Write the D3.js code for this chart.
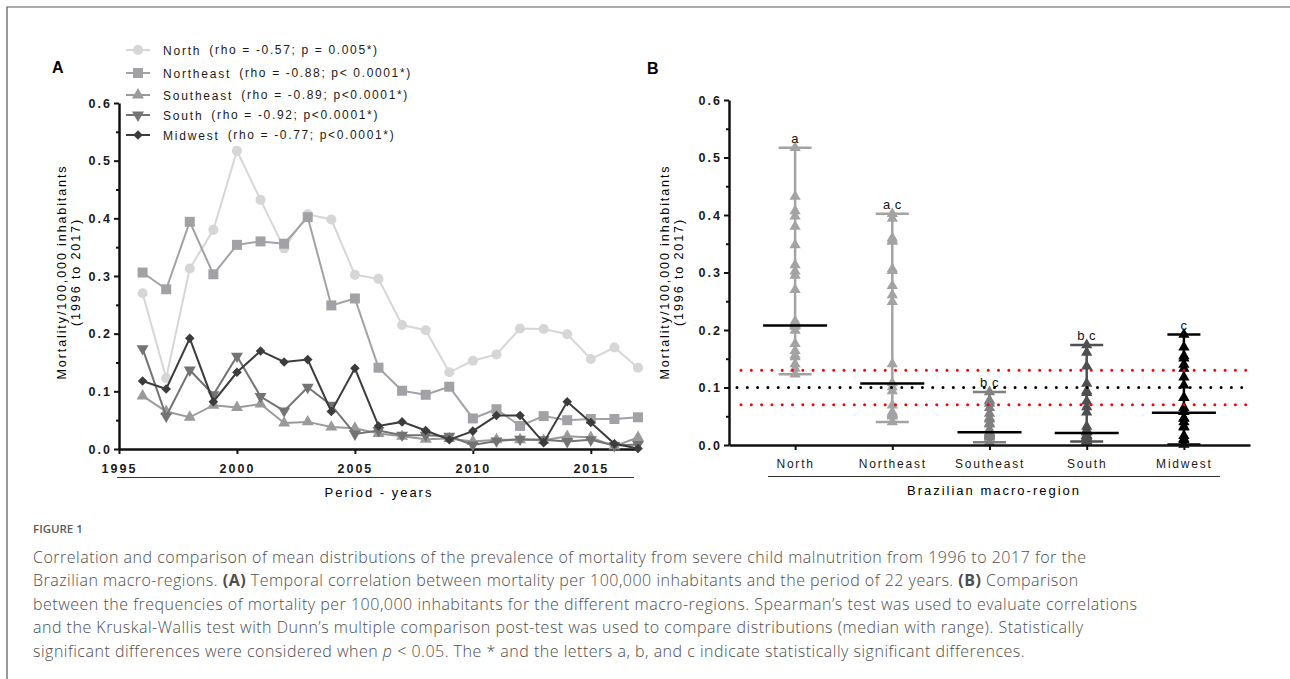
<!DOCTYPE html>
<html><head><meta charset="utf-8">
<script src="https://cdn.jsdelivr.net/npm/d3@7"></script>
<style>
body{margin:0;background:#fff;}
svg text{font-family:"Liberation Sans",Arial,sans-serif;}
</style></head><body>
<svg id="chart" width="1290" height="679"></svg>
<script>
// ---------- DATA ----------
const years = [1996,1997,1998,1999,2000,2001,2002,2003,2004,2005,2006,2007,2008,2009,2010,2011,2012,2013,2014,2015,2016,2017];
const north     = [0.270,0.123,0.313,0.380,0.517,0.432,0.348,0.407,0.398,0.302,0.295,0.215,0.206,0.133,0.153,0.164,0.209,0.208,0.199,0.156,0.176,0.141];
const northeast = [0.306,0.277,0.394,0.303,0.354,0.360,0.356,0.402,0.249,0.261,0.141,0.101,0.094,0.108,0.053,0.069,0.040,0.057,0.050,0.052,0.052,0.055];
const southeast = [0.092,0.065,0.055,0.076,0.072,0.078,0.045,0.047,0.038,0.036,0.027,0.022,0.017,0.018,0.013,0.016,0.016,0.015,0.022,0.020,0.005,0.020];
const south     = [0.174,0.057,0.137,0.094,0.161,0.091,0.066,0.107,0.076,0.026,0.032,0.024,0.024,0.022,0.007,0.014,0.017,0.016,0.013,0.016,0.006,0.008];
const midwest   = [0.118,0.104,0.192,0.082,0.133,0.170,0.151,0.155,0.065,0.140,0.040,0.047,0.032,0.016,0.031,0.058,0.058,0.011,0.082,0.046,0.009,0.001];
const regions = ["North","Northeast","Southeast","South","Midwest"];
const legendStats = ["(rho = -0.57; p = 0.005*)","(rho = -0.88; p< 0.0001*)","(rho = -0.89; p<0.0001*)","(rho = -0.92; p<0.0001*)","(rho = -0.77; p<0.0001*)"];
const medians = [0.208,0.107,0.022,0.021,0.056];
const sigLetters = ["a","a c","b c","b c","c"];
const refDash = [0.13,0.07];   // red dotted
const refLine = [0.10];        // black dotted
const yTicks = [0,0.1,0.2,0.3,0.4,0.5,0.6];
const yMinor = [0.05,0.15,0.25,0.35,0.45,0.55];
const xTicksA = [1995,2000,2005,2010,2015];
const captionLines = [
 [["Correlation and comparison of mean distributions of the prevalence of mortality from severe child malnutrition from 1996 to 2017 for the",""]],
 [["Brazilian macro-regions. ",""],["(A)","b"],[" Temporal correlation between mortality per 100,000 inhabitants and the period of 22 years. ",""],["(B)","b"],[" Comparison",""]],
 [["between the frequencies of mortality per 100,000 inhabitants for the different macro-regions. Spearman\u2019s test was used to evaluate correlations",""]],
 [["and the Kruskal-Wallis test with Dunn\u2019s multiple comparison post-test was used to compare distributions (median with range). Statistically",""]],
 [["significant differences were considered when ",""],["p","i"],[" < 0.05. The * and the letters a, b, and c indicate statistically significant differences.",""]]
];

const seriesA = [north,northeast,southeast,south,midwest];
const lineCol = ["#d6d6d6","#a2a2a6","#9a9a9a","#737373","#3c3c3c"];
const markCol = ["#d6d6d6","#a2a2a6","#9a9a9a","#737373","#3c3c3c"];
const bCol = ["#a3a3a3","#a3a3a3","#808080","#4f4f4f","#000000"];

const svg = d3.select("#chart");

// frame
svg.append("path").attr("d","M7,679 V7 H1290").attr("fill","none").attr("stroke","#555").attr("stroke-width",1.2);

// ---------- PANEL A ----------
const xA = d3.scaleLinear([1995,2017],[119,638]);
const yA = d3.scaleLinear([0,0.6],[449,103]);
const tickFont = g => g.selectAll("text").attr("font-size",12.5).attr("font-weight","bold")
   .style("letter-spacing","2px").attr("fill","#1a1a1a");
const axisStyle = g => { g.select(".domain").attr("stroke","#111").attr("stroke-width",2.5);
   g.selectAll(".tick line").attr("stroke","#111").attr("stroke-width",2); };

const gA = svg.append("g");
gA.append("g").attr("transform","translate(119,0)")
  .call(d3.axisLeft(yA).tickValues(yMinor).tickSize(3).tickFormat("").tickSizeOuter(0))
  .call(g=>g.select(".domain").remove()).call(axisStyle);
gA.append("g").attr("transform","translate(119,0)")
  .call(d3.axisLeft(yA).tickValues(yTicks).tickSize(5).tickPadding(2).tickFormat(d3.format(".1f")).tickSizeOuter(0))
  .call(axisStyle).call(tickFont);
gA.append("g").attr("transform","translate(0,449)")
  .call(d3.axisBottom(xA).tickValues(xTicksA).tickSize(5).tickPadding(10).tickFormat(d3.format("d")).tickSizeOuter(0))
  .call(axisStyle).call(tickFont);

const symFor = i => {
  if(i===0) return d3.symbol(d3.symbolCircle,80)();
  if(i===1) return d3.symbol(d3.symbolSquare,100)();
  if(i===2||i===3) return d3.symbol(d3.symbolTriangle,62)();
  return d3.symbol(d3.symbolSquare,46)();
};
const rotFor = i => i===3 ? 180 : (i===4 ? 45 : 0);

const line = d3.line().x((d,j)=>xA(years[j])).y(d=>yA(d));
seriesA.forEach((s,i)=>{
  const g = gA.append("g");
  g.append("path").attr("d",line(s)).attr("fill","none").attr("stroke",lineCol[i]).attr("stroke-width",2);
  g.selectAll("path.m").data(s).join("path").attr("class","m")
   .attr("d",symFor(i)).attr("fill",markCol[i])
   .attr("transform",(d,j)=>`translate(${xA(years[j])},${yA(d)}) rotate(${rotFor(i)})`);
});

// legend
const legY = [50,73,95,115,135];
regions.forEach((r,i)=>{
  const g = gA.append("g").attr("transform",`translate(0,${legY[i]})`);
  g.append("line").attr("x1",126).attr("x2",150).attr("stroke",lineCol[i]).attr("stroke-width",2);
  g.append("path").attr("d",symFor(i)).attr("fill",markCol[i]).attr("transform",`translate(138,0) rotate(${rotFor(i)})`);
  const t = g.append("text").attr("x",163).attr("y",5).attr("font-size",12).attr("fill","#1a1a1a");
  t.append("tspan").text(r).style("letter-spacing","1.8px");
  t.append("tspan").attr("dx",8).attr("dy",-1.5).attr("font-size",12).style("letter-spacing","1.65px").text(legendStats[i]);
});

// titles A
gA.append("text").attr("x",52).attr("y",73).attr("font-size",16).attr("font-weight","bold").text("A");
gA.append("line").attr("x1",117).attr("x2",634).attr("y1",477.5).attr("y2",477.5).attr("stroke","#333").attr("stroke-width",1.2);
gA.append("text").attr("x",379).attr("y",497).attr("text-anchor","middle").attr("font-size",13).style("letter-spacing","2px").text("Period - years");
const yTitleA = gA.append("text").attr("transform","translate(66,272) rotate(-90)").attr("text-anchor","middle").attr("font-size",12.5).style("letter-spacing","1.9px");
yTitleA.append("tspan").attr("x",0).attr("y",0).text("Mortality/100,000 inhabitants");
yTitleA.append("tspan").attr("x",0).attr("y",14).text("(1996 to 2017)");

// ---------- PANEL B ----------
const xB = d3.scalePoint(regions,[729,1250]).padding(0.68);
const yB = d3.scaleLinear([0,0.6],[445,100]);
const gB = svg.append("g");
gB.append("g").attr("transform","translate(729,0)")
  .call(d3.axisLeft(yB).tickValues(yMinor).tickSize(3).tickFormat("").tickSizeOuter(0))
  .call(g=>g.select(".domain").remove()).call(axisStyle);
gB.append("g").attr("transform","translate(729,0)")
  .call(d3.axisLeft(yB).tickValues(yTicks).tickSize(5).tickPadding(2).tickFormat(d3.format(".1f")).tickSizeOuter(0))
  .call(axisStyle).call(tickFont);

regions.forEach((r,i)=>{
  const vals = seriesA[i];
  const [mn,mx] = d3.extent(vals);
  const cx = xB(r);
  const g = gB.append("g");
  g.append("line").attr("x1",cx).attr("x2",cx).attr("y1",yB(mn)).attr("y2",yB(mx)).attr("stroke",bCol[i]).attr("stroke-width",2.5);
  [mn,mx].forEach(v=>g.append("line").attr("x1",cx-16.5).attr("x2",cx+16.5).attr("y1",yB(v)).attr("y2",yB(v)).attr("stroke",bCol[i]).attr("stroke-width",2.5));
  g.selectAll("path").data(vals).join("path").attr("d",d3.symbol(d3.symbolTriangle,55)())
   .attr("fill",bCol[i]).attr("transform",d=>`translate(${cx},${yB(d)})`);
  g.append("line").attr("x1",cx-32).attr("x2",cx+32).attr("y1",yB(medians[i])).attr("y2",yB(medians[i])).attr("stroke","#000").attr("stroke-width",2.5);
  g.append("text").attr("x",cx).attr("y",yB(mx)-5).attr("text-anchor","middle").attr("font-size",13).style("letter-spacing","0.5px").attr("fill","#111").text(sigLetters[i]);
});

gB.append("g").attr("transform","translate(0,445)")
  .call(d3.axisBottom(xB).tickSize(5).tickPadding(9.5).tickSizeOuter(0))
  .call(axisStyle)
  .call(g=>g.selectAll("text").attr("font-size",12).style("letter-spacing","1.8px").attr("fill","#1a1a1a"));

refDash.forEach(v=>gB.append("line").attr("x1",741).attr("x2",1246).attr("y1",yB(v)).attr("y2",yB(v))
  .attr("stroke","#ff0000").attr("stroke-width",3).attr("stroke-linecap","round").attr("stroke-dasharray","0,10.3"));
refLine.forEach(v=>gB.append("line").attr("x1",737).attr("x2",1246).attr("y1",yB(v)).attr("y2",yB(v))
  .attr("stroke","#000").attr("stroke-width",3).attr("stroke-linecap","round").attr("stroke-dasharray","0,10.3"));

gB.append("text").attr("x",647).attr("y",74).attr("font-size",16).attr("font-weight","bold").text("B");
gB.append("line").attr("x1",768).attr("x2",1220).attr("y1",476.5).attr("y2",476.5).attr("stroke","#333").attr("stroke-width",1.2);
gB.append("text").attr("x",994).attr("y",495).attr("text-anchor","middle").attr("font-size",13).style("letter-spacing","2px").text("Brazilian macro-region");
const yTitleB = gB.append("text").attr("transform","translate(669,272) rotate(-90)").attr("text-anchor","middle").attr("font-size",12.5).style("letter-spacing","1.9px");
yTitleB.append("tspan").attr("x",0).attr("y",0).text("Mortality/100,000 inhabitants");
yTitleB.append("tspan").attr("x",0).attr("y",14).text("(1996 to 2017)");

// ---------- CAPTION ----------
svg.append("text").attr("x",33).attr("y",533).style("font-family","'Open Sans',sans-serif")
  .attr("font-size",11.5).attr("font-weight",600).attr("fill","#5a5a5a").text("FIGURE 1");
captionLines.forEach((ln,k)=>{
  const t = svg.append("text").attr("x",33).attr("y",563+k*23.4).style("font-family","'Open Sans',sans-serif")
    .attr("font-size",16).style("letter-spacing","0.5px").attr("font-weight",300).attr("fill","#4d4d4d");
  ln.forEach(([s,f])=>{
    const sp = t.append("tspan").text(s);
    if(f==="b") sp.attr("font-weight",700);
    if(f==="i") sp.attr("font-style","italic");
  });
});
</script>
</body></html>
